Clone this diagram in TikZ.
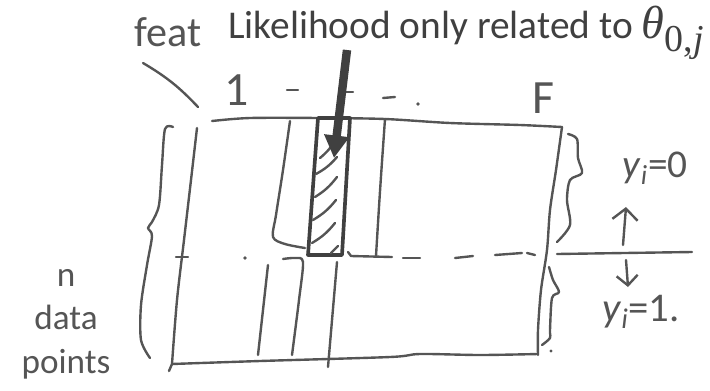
\documentclass[tikz,border=0pt]{standalone}
\usepackage{fontspec}
\setmainfont{Carlito}
\newfontfamily\greekserif{Liberation Serif}
\usetikzlibrary{arrows.meta,calc}
\definecolor{inkgray}{HTML}{555555}
\definecolor{slidegray}{HTML}{404040}

\begin{document}
\begin{tikzpicture}[x=0.025cm, y=-0.025cm,
  pen/.style={draw=inkgray, line width=1.7pt, line cap=round, line join=round},
  thickpen/.style={draw=slidegray, line width=2.6pt, line cap=round, line join=round},
  hand/.style={text=inkgray, inner sep=0pt}]
\useasboundingbox (0,0) rectangle (710,390);
% slide caption and its pointer
\node[anchor=base west, text=slidegray, inner sep=0pt, font=\fontsize{28}{32}\selectfont] (title) at (228,38) {Likelihood only related to {\greekserif\itshape\fontsize{33}{36}\selectfont θ}\textsubscript{\greekserif\fontsize{27}{30}\selectfont 0,\itshape j}};
\coordinate (ptrstart) at (347,50);
\coordinate (ptrtip) at (334,158);
% handwritten labels
\node[hand, font=\fontsize{30}{34}\selectfont] (feat) at (168,32) {feat};
\node[hand, font=\fontsize{34}{36}\selectfont] (first) at (237,90) {1};
\node[hand, font=\fontsize{34}{36}\selectfont] (last) at (543,98) {F};
\node[hand, align=center, font=\fontsize{25}{31}\selectfont] (npoints) at (66,324) {n\\data\\points};
\node[hand, font=\fontsize{28}{30}\selectfont] (yzero) at (655,168) {\textit{y}\textsubscript{\itshape i}=0};
\node[hand, font=\fontsize{29}{30}\selectfont] (yone) at (641,312) {\textit{y}\textsubscript{\itshape i}=1.};
\coordinate (featfrom) at (143,63);
\coordinate (corner) at (198,107);
\coordinate (upfrom) at (623,245);
\coordinate (upto) at (626,207);
\coordinate (downfrom) at (626,260);
\coordinate (downto) at (628,287);
\draw[pen] (featfrom) to[bend left=8] (corner);
\draw[pen] (287,90) -- (298,90);
\draw[pen] (340,92) -- (353,92);
\draw[pen] (383,98) -- (395,97);
\fill[inkgray] (418,104) circle (1.3pt);
% data matrix outline
\draw[pen] plot[smooth] coordinates {(212,121) (250,118) (320,118) (385,119) (450,123) (520,125) (562,127)};
\draw[pen] plot[smooth] coordinates {(562,127) (556,170) (550,210) (547,250) (541,290) (538,330) (538,355)};
\draw[pen] plot[smooth] coordinates {(172,364) (260,361) (390,357) (420,354) (480,355) (538,354)};
\draw[pen] plot[smooth] coordinates {(197,128) (191,180) (184,240) (177,300) (172,364)} -- (169,371);
% feature columns
\draw[pen] plot[smooth] coordinates {(290,121) (283,170) (276,215) (273,237) (285,244) (305,248)};
\draw[pen] (385,119) .. controls (380,190) .. (376,256);
\draw[pen] (348,252) -- (351,256) -- (392,257);
\draw[pen] (268,265) -- (258,355);
\draw[pen] plot[smooth] coordinates {(283,259) (295,258) (303,262) (299,300) (292,355)};
\draw[pen] (337,262) -- (328,367);
% hatched column j
\draw[thickpen] (318,118) -- (350,118) -- (342,255) -- (308,255) -- cycle;
\draw[pen] (320,158) to[bend right=10] (336,139);
\draw[pen] (316,174) to[bend right=10] (337,157);
\draw[pen] (315,197) to[bend right=10] (337,177);
\draw[pen] (313,220) to[bend right=10] (336,200);
\draw[pen] (312,243) to[bend right=10] (335,223);
\draw[pen] (331,253) -- (338,246);
% class split
\draw[pen] (176,257) -- (188,257);
\fill[inkgray] (245,258) circle (1.3pt);
\draw[pen] (403,258) -- (420,258);
\draw[pen] (455,258) -- (473,256);
\draw[pen] (495,255) -- (522,253);
\draw[pen] (527,253) -- (535,255);
\draw[pen] (557,254) -- (692,252);
% braces
\draw[pen] plot[smooth] coordinates {(173,127) (165,129) (162,165) (159,205) (152,222) (148,228) (152,236) (147,265) (141,305) (141,340) (150,358)};
\draw[pen] plot[smooth] coordinates {(568,134) (577,139) (578,158) (582,173) (570,180) (567,200) (570,225) (557,242)};
\draw[pen] plot[smooth] coordinates {(549,267) (553,280) (559,292) (552,298) (550,330) (550,338) (542,345)};
\fill[inkgray] (551,351) circle (1.2pt);
% arrows
\draw[pen, -{Straight Barb[length=8pt,width=18pt]}] (upfrom) -- (upto);
\draw[pen, -{Straight Barb[length=7pt,width=15pt]}] (downfrom) -- (downto);
\draw[line width=6pt, slidegray, -{Triangle[length=16pt,width=17pt]}] (ptrstart) -- (ptrtip);
\end{tikzpicture}
\end{document}
